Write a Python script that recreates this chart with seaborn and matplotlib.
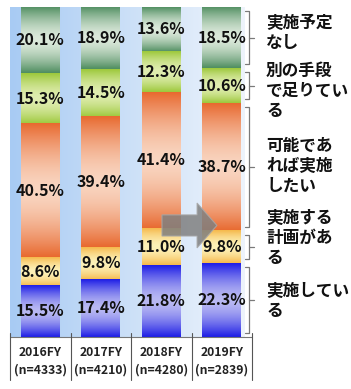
import numpy as np
import matplotlib.pyplot as plt
import seaborn as sns
from matplotlib.colors import to_rgb
from matplotlib.patches import Polygon
from matplotlib.lines import Line2D
from matplotlib.transforms import blended_transform_factory

years = ["2016FY", "2017FY", "2018FY", "2019FY"]
n_labels = ["(n=4333)", "(n=4210)", "(n=4280)", "(n=2839)"]

# bottom -> top
categories = ["実施してい\nる", "実施する\n計画があ\nる", "可能であ\nれば実施\nしたい",
              "別の手段\nで足りてい\nる", "実施予定\nなし"]
jisshi = [15.5, 17.4, 21.8, 22.3]
keikaku = [8.6, 9.8, 11.0, 9.8]
kanou = [40.5, 39.4, 41.4, 38.7]
betsu = [15.3, 14.5, 12.3, 10.6]
nashi = [20.1, 18.9, 13.6, 18.5]

edge_colors = ["#1c1ce6", "#f5b84a", "#e8692f", "#9cc83a", "#4e8d5f"]
mid_colors = ["#b9b9f3", "#fdf1b8", "#f9d5c0", "#e0edb0", "#dce9db"]


def vgrad(edge, mid, n=256):
    u = np.linspace(0, 1, n)
    t = np.abs(2 * u - 1) ** 1.6
    e = np.array(to_rgb(edge))
    m = np.array(to_rgb(mid))
    return (m + (e - m) * t[:, None])[:, None, :]


sns.set_style("white")
plt.rcParams["font.family"] = ["Noto Sans CJK JP", "DejaVu Sans"]

fig = plt.figure(figsize=(3.51, 3.89), dpi=100)
ax = fig.add_axes([10 / 351, 52 / 389, 242 / 351, 330 / 389])

# background gradient
bx = np.linspace(0, 1, 256)
bl, br = np.array(to_rgb("#a8cbf3")), np.array(to_rgb("#eef4fc"))
bg = (bl + (br - bl) * bx[:, None])[None, :, :]
ax.imshow(bg, extent=(-0.5, 3.38, 0, 100), aspect="auto", zorder=0)

values = np.vstack([jisshi, keikaku, kanou, betsu, nashi])
cum = np.cumsum(values, axis=0)

layer_patches = {}
for k in reversed(range(len(values))):
    before = len(ax.patches)
    sns.barplot(x=years, y=cum[k], color=edge_colors[k], width=0.64,
                saturation=1, linewidth=0, ax=ax, zorder=1)
    layer_patches[k] = ax.patches[before:]

for k, patches in layer_patches.items():
    grad = vgrad(edge_colors[k], mid_colors[k])
    for j, p in enumerate(patches):
        x0, w = p.get_x(), p.get_width()
        lo = cum[k - 1][j] if k > 0 else 0
        hi = cum[k][j]
        ax.imshow(grad, extent=(x0, x0 + w, lo, hi), aspect="auto",
                  interpolation="bicubic", zorder=3)
        ax.text(x0 + w / 2, (lo + hi) / 2, f"{values[k][j]:.1f}%",
                ha="center", va="center", fontsize=11.5, fontweight="bold",
                color="#111111", zorder=6)

ax.set_xlim(-0.5, 3.5)
ax.set_ylim(0, 100)
ax.set_axis_off()

# table under bars
tr = blended_transform_factory(ax.transData, ax.transAxes)
ax.add_line(Line2D([-0.5, 3.5], [0, 0], transform=tr, color="#777777",
                   lw=0.8, clip_on=False, zorder=7))
for xv in [-0.5, 0.5, 1.5, 2.5, 3.5]:
    ax.add_line(Line2D([xv, xv], [0.012, -0.130], transform=tr,
                       color="#555555", lw=0.8, clip_on=False, zorder=7))
for i, (yr, nl) in enumerate(zip(years, n_labels)):
    ax.text(i, -0.046, yr, transform=tr, ha="center", va="center",
            fontsize=8.8, fontweight="bold", color="#222222")
    ax.text(i, -0.100, nl, transform=tr, ha="center", va="center",
            fontsize=8.8, fontweight="bold", color="#222222")

# brackets for the last bar
last = len(years) - 1
inset = 1.2
for k in range(len(values)):
    lo = (cum[k - 1][last] if k > 0 else 0) + inset
    hi = cum[k][last] - inset
    mid = (lo + hi) / 2
    ax.add_line(Line2D([3.384, 3.45, 3.45, 3.384], [hi, hi, lo, lo],
                       color="#7a7a7a", lw=0.9, clip_on=False, zorder=7))
    ax.add_line(Line2D([3.45, 3.533], [mid, mid], color="#7a7a7a",
                       lw=0.9, clip_on=False, zorder=7))

label_y = [0.109, 0.30, 0.518, 0.745, 0.921]
for lab, yy in zip(categories, label_y):
    ax.text(1.058, yy, lab, transform=ax.transAxes, ha="left", va="center",
            fontsize=12, fontweight="bold", linespacing=1.15, color="#111111")

# grey arrow
arrow = Polygon([(0.628, 0.306), (0.773, 0.306), (0.773, 0.270), (0.855, 0.338),
                 (0.773, 0.406), (0.773, 0.370), (0.628, 0.370)],
                closed=True, transform=ax.transAxes, facecolor="#808080",
                edgecolor="#a8a8a8", lw=0.8, alpha=0.85, zorder=5)
ax.add_patch(arrow)

fig.savefig("out.png", dpi=100)
